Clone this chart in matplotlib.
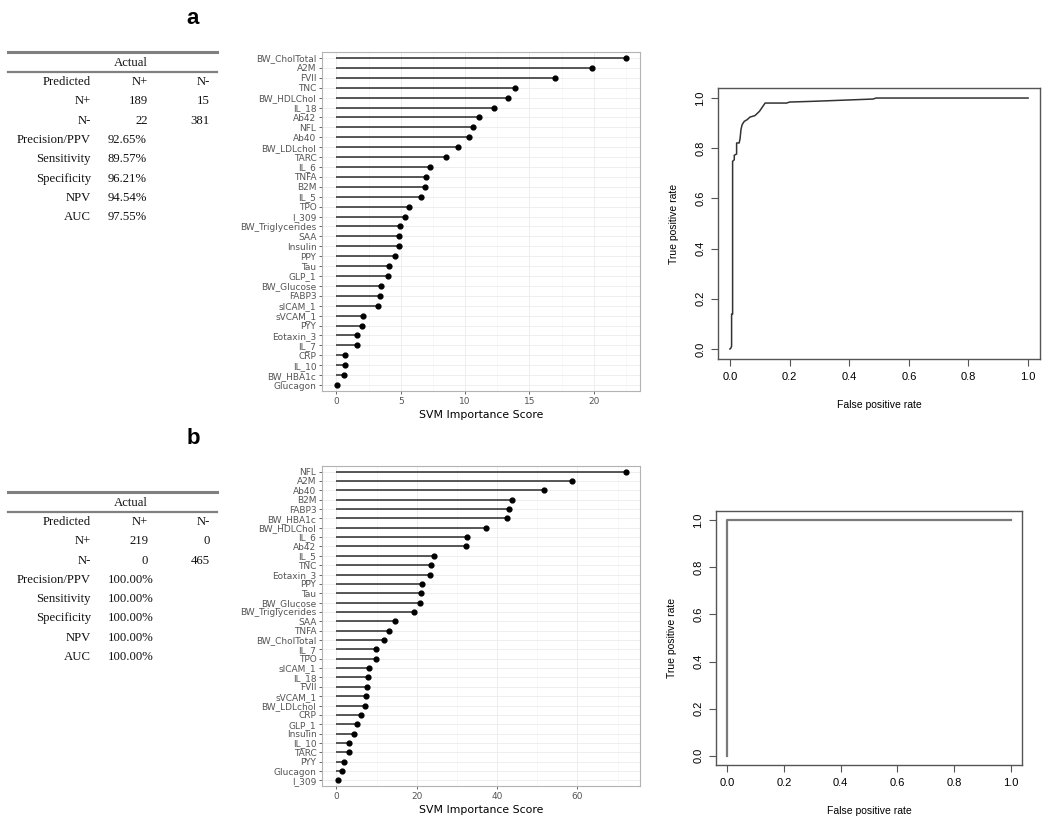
import matplotlib
matplotlib.use("Agg")
import matplotlib.pyplot as plt
from matplotlib.ticker import MultipleLocator

W, H = 1050, 821

# ---------------- data ----------------
feat_a = ["BW_CholTotal", "A2M", "FVII", "TNC", "BW_HDLChol", "IL_18", "Ab42", "NFL",
          "Ab40", "BW_LDLchol", "TARC", "IL_6", "TNFA", "B2M", "IL_5", "TPO", "I_309",
          "BW_Triglycerides", "SAA", "Insulin", "PPY", "Tau", "GLP_1", "BW_Glucose",
          "FABP3", "sICAM_1", "sVCAM_1", "PYY", "Eotaxin_3", "IL_7", "CRP", "IL_10",
          "BW_HBA1c", "Glucagon"]
score_a = [22.48, 19.85, 16.98, 13.9, 13.33, 12.22, 11.06, 10.59, 10.31, 9.46, 8.5,
           7.31, 6.93, 6.9, 6.56, 5.66, 5.35, 4.91, 4.88, 4.83, 4.57, 4.11, 4.0, 3.49,
           3.36, 3.23, 2.09, 1.99, 1.63, 1.6, 0.67, 0.65, 0.62, 0.03]

feat_b = ["NFL", "A2M", "Ab40", "B2M", "FABP3", "BW_HBA1c", "BW_HDLChol", "IL_6", "Ab42",
          "IL_5", "TNC", "Eotaxin_3", "PPY", "Tau", "BW_Glucose", "BW_Triglycerides", "SAA",
          "TNFA", "BW_CholTotal", "IL_7", "TPO", "sICAM_1", "IL_18", "FVII", "sVCAM_1",
          "BW_LDLchol", "CRP", "GLP_1", "Insulin", "IL_10", "TARC", "PYY", "Glucagon", "I_309"]
score_b = [72.0, 58.6, 51.8, 43.6, 43.0, 42.5, 37.3, 32.5, 32.2, 24.3, 23.6, 23.4, 21.4,
           21.0, 20.9, 19.2, 14.7, 13.0, 11.8, 9.9, 9.9, 8.0, 7.8, 7.6, 7.4, 7.2, 6.0,
           5.1, 4.3, 3.2, 3.2, 1.9, 1.3, 0.3]

roc_a_fpr = [0, 0.003, 0.0056, 0.0056, 0.009, 0.009, 0.0146, 0.0146, 0.0224, 0.0224,
             0.031, 0.034, 0.037, 0.041, 0.048, 0.058, 0.067, 0.084, 0.099, 0.118, 0.19,
             0.2, 0.28, 0.37, 0.48, 0.49, 1.0]
roc_a_tpr = [0, 0.003, 0.011, 0.139, 0.139, 0.748, 0.754, 0.772, 0.777, 0.821, 0.821,
             0.838, 0.874, 0.894, 0.907, 0.914, 0.924, 0.93, 0.947, 0.98, 0.98, 0.984,
             0.987, 0.991, 0.996, 1.0, 1.0]
roc_b_fpr = [0, 0, 1]
roc_b_tpr = [0, 1, 1]

table_cols = ["Predicted", "N+", "N-"]
table_a_rows = [["N+", "189", "15"], ["N-", "22", "381"]]
table_a_metrics = [["Precision/PPV", "92.65%"], ["Sensitivity", "89.57%"],
                   ["Specificity", "96.21%"], ["NPV", "94.54%"], ["AUC", "97.55%"]]
table_b_rows = [["N+", "219", "0"], ["N-", "0", "465"]]
table_b_metrics = [["Precision/PPV", "100.00%"], ["Sensitivity", "100.00%"],
                   ["Specificity", "100.00%"], ["NPV", "100.00%"], ["AUC", "100.00%"]]

# ---------------- figure ----------------
fig = plt.figure(figsize=(W / 100, H / 100), dpi=100)
fig.patch.set_facecolor("white")


def ax_px(l, t, r, b):
    return fig.add_axes([l / W, 1 - b / H, (r - l) / W, (b - t) / H])


def ftext(x, y, s, **kw):
    fig.text(x / W, 1 - y / H, s, **kw)


# panel letters
ftext(193, 18, "a", fontsize=16, fontweight="bold", ha="center", va="center",
      family="Liberation Sans")
ftext(193, 438, "b", fontsize=16, fontweight="bold", ha="center", va="center",
      family="Liberation Sans")


# ---------------- tables ----------------
def draw_table(top, rows, metrics):
    serif = dict(family="Liberation Serif", fontsize=9.2, va="center", color="#111111")
    line1 = top
    fig.add_artist(plt.Line2D([8 / W, 217 / W], [1 - line1 / H, 1 - line1 / H],
                              color="#808080", lw=2.2))
    ftext(148, top + 11, "Actual", ha="right", **serif)
    line2 = top + 20
    fig.add_artist(plt.Line2D([8 / W, 217 / W], [1 - line2 / H, 1 - line2 / H],
                              color="#808080", lw=1.6))
    step = 19.3
    y = top + 30
    ftext(91, y, table_cols[0], ha="right", **serif)
    ftext(148, y, table_cols[1], ha="right", **serif)
    ftext(210, y, table_cols[2], ha="right", **serif)
    for r in rows:
        y += step
        ftext(91, y, r[0], ha="right", **serif)
        ftext(148, y, r[1], ha="right", **serif)
        ftext(210, y, r[2], ha="right", **serif)
    for m in metrics:
        y += step
        ftext(91, y, m[0], ha="right", **serif)
        ftext(108, y, m[1], ha="left", **serif)


draw_table(52, table_a_rows, table_a_metrics)
draw_table(492, table_b_rows, table_b_metrics)


# ---------------- lollipop ----------------
def lollipop(ax, feats, scores, major, minor):
    n = len(feats)
    ypos = list(range(n, 0, -1))
    ax.set_facecolor("white")
    ax.hlines(ypos, 0, scores, color="#2a2a2a", lw=1.1, zorder=3)
    ax.scatter(scores, ypos, s=12, color="black", zorder=4)
    mx = max(scores)
    ax.set_xlim(-0.05 * mx, mx * 1.05)
    ax.set_ylim(0.4, n + 0.6)
    ax.set_yticks(ypos)
    ax.set_yticklabels(feats)
    ax.xaxis.set_major_locator(MultipleLocator(major))
    ax.xaxis.set_minor_locator(MultipleLocator(minor))
    ax.grid(which="major", color="#EBEBEB", lw=0.6, zorder=0)
    ax.grid(which="minor", axis="x", color="#F4F4F4", lw=0.4, zorder=0)
    ax.set_axisbelow(True)
    for s in ax.spines.values():
        s.set_color("#B3B3B3")
        s.set_linewidth(0.8)
    ax.tick_params(which="major", length=2.5, width=0.6, color="#4D4D4D",
                   labelsize=6.5, labelcolor="#555555", pad=1.5)
    ax.tick_params(which="minor", length=0)
    ax.set_xlabel("SVM Importance Score", fontsize=7.8, color="black", labelpad=3)
    for lab in ax.get_yticklabels() + ax.get_xticklabels():
        lab.set_family("DejaVu Sans")


axa = ax_px(322, 52, 640, 391)
lollipop(axa, feat_a, score_a, 5, 2.5)
axb = ax_px(322, 466, 640, 786)
lollipop(axb, feat_b, score_b, 20, 10)


# ---------------- ROC ----------------
def roc(ax, fpr, tpr, color, lw):
    ax.plot(fpr, tpr, color=color, lw=lw)
    ax.set_xlim(-0.04, 1.04)
    ax.set_ylim(-0.04, 1.04)
    ticks = [0, 0.2, 0.4, 0.6, 0.8, 1.0]
    ax.set_xticks(ticks)
    ax.set_yticks(ticks)
    ax.set_xticklabels(["%.1f" % t for t in ticks])
    ax.set_yticklabels(["%.1f" % t for t in ticks], rotation=90, va="center")
    for s in ax.spines.values():
        s.set_color("#555555")
        s.set_linewidth(1.0)
    ax.tick_params(length=5, width=0.8, color="#555555", labelsize=8, pad=4)
    for lab in ax.get_yticklabels() + ax.get_xticklabels():
        lab.set_family("Liberation Sans")
    ax.set_xlabel("False positive rate", fontsize=7.5, family="Liberation Sans",
                  labelpad=13)
    ax.set_ylabel("True positive rate", fontsize=7.5, family="Liberation Sans",
                  labelpad=12)


rax = ax_px(718, 88, 1040, 359)
roc(rax, roc_a_fpr, roc_a_tpr, "#333333", 1.1)
rbx = ax_px(716, 511, 1022, 765)
roc(rbx, roc_b_fpr, roc_b_tpr, "#7a7a7a", 1.6)

fig.savefig("out.png", dpi=100, facecolor="white")
